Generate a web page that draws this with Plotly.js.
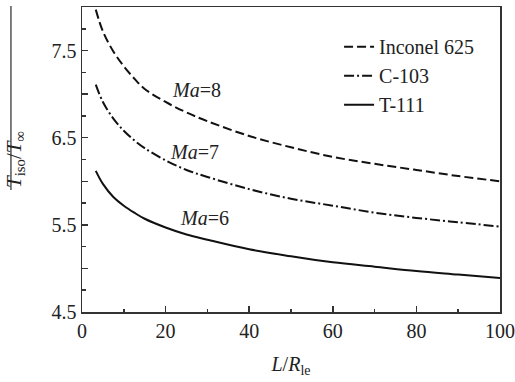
<!DOCTYPE html>
<html>
<head>
<meta charset="utf-8">
<script src="https://cdn.plot.ly/plotly-3.0.1.min.js"></script>
<style>html,body{margin:0;padding:0;background:#fff;}#chart{width:515px;height:382px;}</style>
</head>
<body>
<div id="chart"></div>
<script>
// Data
const xLR = [3.3, 5, 7.5, 10, 12.5, 15, 20, 25, 30, 40, 50, 60, 70, 80, 90, 100];
const inconel625 = [7.97, 7.72, 7.49, 7.32, 7.18, 7.06, 6.91, 6.79, 6.69, 6.52, 6.39, 6.28, 6.20, 6.13, 6.06, 6.00];
const c103 = [7.11, 6.91, 6.72, 6.58, 6.47, 6.38, 6.24, 6.13, 6.05, 5.91, 5.80, 5.72, 5.64, 5.58, 5.53, 5.48];
const t111 = [6.12, 5.97, 5.82, 5.72, 5.64, 5.57, 5.47, 5.39, 5.33, 5.22, 5.14, 5.07, 5.02, 4.97, 4.93, 4.89];
const seriesNames = ['Inconel 625', 'C-103', 'T-111'];
const machLabels = ['<i>Ma</i>=8', '<i>Ma</i>=7', '<i>Ma</i>=6'];
const machLabelX = [27.3, 27.0, 29.2];
const machLabelY = [7.05, 6.34, 5.58];

const AX = '#333';
const TXT = '#222';
function serif(size) { return {family: 'Liberation Serif', size: size, color: TXT}; }

const dashes = ['9px,4px', '10px,3px,2px,3px', 'solid'];
const ys = [inconel625, c103, t111];
const traces = ys.map((y, i) => ({
  x: xLR, y: y, type: 'scatter', mode: 'lines', name: seriesNames[i],
  line: {color: '#111', width: 2, dash: dashes[i], shape: 'spline', smoothing: 1}
}));

const layout = {
  width: 515, height: 382,
  margin: {l: 82, r: 15, t: 7, b: 70},
  showlegend: true,
  legend: {x: 0.615, y: 0.934, xanchor: 'left', yanchor: 'top', bgcolor: 'rgba(0,0,0,0)',
           font: serif(20), itemwidth: 30, tracegroupgap: 0},
  xaxis: {
    range: [0, 100], dtick: 20, tick0: 0,
    showline: true, mirror: true, linecolor: AX, linewidth: 1.5,
    ticks: 'inside', ticklen: 6, tickwidth: 1.5, tickcolor: AX,
    minor: {dtick: 10, ticks: 'inside', ticklen: 3.5, tickwidth: 1.5, tickcolor: AX},
    showgrid: false, zeroline: false,
    tickfont: serif(20),
    title: {text: '<i>L</i>/<i>R</i><sub>le</sub>', font: serif(20), standoff: 16}
  },
  yaxis: {
    range: [4.5, 8.0], tick0: 4.5, dtick: 0.5, ticklabelstep: 2,
    showline: true, mirror: true, linecolor: AX, linewidth: 1.5,
    ticks: 'inside', ticklen: 6, tickwidth: 1.5, tickcolor: AX,
    minor: {dtick: 0.25, tick0: 4.5, ticks: 'inside', ticklen: 3.5, tickwidth: 1.5, tickcolor: AX},
    showgrid: false, zeroline: false,
    tickfont: serif(20),
    title: {text: '<i>T</i><sub>iso</sub>/<i>T</i><sub>&#8734;</sub>', font: serif(21), standoff: 24}
  },
  annotations: machLabels.map((t, i) => ({
    x: machLabelX[i], y: machLabelY[i], xref: 'x', yref: 'y', text: t, showarrow: false,
    font: serif(20), xanchor: 'center', yanchor: 'middle'
  })),
  shapes: [{type: 'line', xref: 'paper', yref: 'paper', x0: -0.170, x1: -0.170, y0: 0.40, y1: 1.003,
            line: {color: '#555', width: 1.5}}]
};

Plotly.newPlot('chart', traces, layout, {displayModeBar: false, staticPlot: true});
</script>
</body>
</html>
